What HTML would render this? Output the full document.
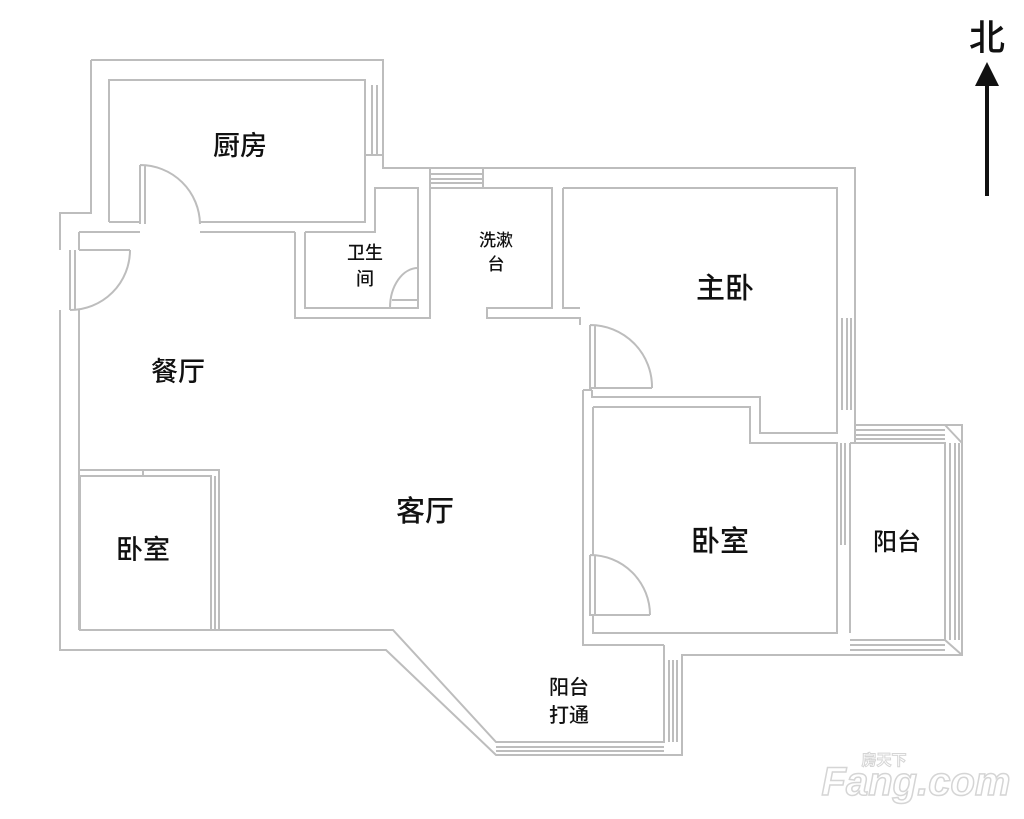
<!DOCTYPE html>
<html><head><meta charset="utf-8"><style>
html,body{margin:0;padding:0;background:#fff;}
svg{display:block;}
text{font-family:"Liberation Sans","Noto Sans CJK SC",sans-serif;fill:#111;text-anchor:middle;}
</style></head><body>
<svg width="1024" height="819" viewBox="0 0 1024 819" xmlns="http://www.w3.org/2000/svg">
<g fill="none" stroke="#bdbdbd" stroke-width="2">
<path d="M91,60 H383 V168 H855 V425 H962 V655 H682 V755 H496 L386,650 H60 V310 M60,250 V213 H91 V60"/>
<path d="M109,222 V80 H365 V222 H200 M140,222 H109"/>
<path d="M365,85 V155 M372,85 V155 M377,85 V155 M383,85 V155 M365,155 H383"/>
<path d="M79,232 H140 M200,232 H295"/>
<path d="M140,165 V224 M145,165 V224 M140,165 A60,60 0 0 1 200,224"/>
<path d="M79,250 H130 M79,310 V630 M79,232 V250"/>
<path d="M70,250 V310 M75,250 V310 M130,250 A60,60 0 0 1 70,310"/>
<path d="M295,232 V318 H430 V188 M305,232 V308 H418 V268 M305,232 H375 V188 H418 V268 M365,155 V168 M375,188 H383"/>
<path d="M418,268 A28,40 0 0 0 390,308 M392,300 H418"/>
<path d="M430,188 H552 V308 H487 V318 H580 V325 M430,168 V188 M483,168 V188 M430,174 H483 M430,179 H483 M430,183 H483"/>
<path d="M563,188 V308 H580 M563,188 H837 V433 H760 V397 H592 V390 M855,168 V425"/>
<path d="M837,318 V410 M842,318 V410 M847,318 V410 M851,318 V410"/>
<path d="M590,325 V388 H652 M595,325 V388 M590,325 A62,62 0 0 1 652,388"/>
<path d="M583,390 V645 H664 M593,407 H750 V443 H837 V633 H593 V615 M593,407 V555 M583,390 H592"/>
<path d="M590,555 V615 H650 M595,555 V615 M590,555 A60,60 0 0 1 650,615"/>
<path d="M837,443 V633 M841,443 V545 M845,443 V545 M850,443 V633"/>
<path d="M855,425 V443 M850,443 H945 V640 H850 M855,430 H945 M855,435 H945 M855,439 H945 M950,443 V640 M955,443 V640 M959,443 V640 M850,645 H945 M850,650 H945 M945,425 L962,443 M945,640 L962,655"/>
<path d="M80,476 V630 H211 V476 H80 M80,470 H219 V630 M143,470 V476 M215,476 V630"/>
<path d="M79,630 H393 L496,742 H664 V653 M664,645 V653 M496,747 H664 M496,751 H664 M669,660 V742 M673,660 V742 M677,660 V742 M682,655 V755"/>
</g>
<g font-weight="bold" style="font-weight:500">
<text x="240" y="155" font-size="27">厨房</text>
<text x="365" y="259" font-size="18">卫生</text>
<text x="365" y="285" font-size="18">间</text>
<text x="496" y="246" font-size="17">洗漱</text>
<text x="496" y="270" font-size="17">台</text>
<text x="725" y="298" font-size="29">主卧</text>
<text x="178" y="381" font-size="27">餐厅</text>
<text x="425" y="521" font-size="29">客厅</text>
<text x="143" y="559" font-size="27">卧室</text>
<text x="720" y="551" font-size="29">卧室</text>
<text x="897" y="550" font-size="24">阳台</text>
<text x="569" y="694" font-size="20">阳台</text>
<text x="569" y="722" font-size="20">打通</text>
<text x="987" y="50" font-size="36">北</text>
</g>
<line x1="987" y1="196" x2="987" y2="80" stroke="#111" stroke-width="4"/>
<polygon points="975,86 999,86 987,62" fill="#111"/>
<text x="916" y="795" font-size="40" font-weight="bold" font-style="italic" style="fill:#fff;stroke:#d5d5d5;stroke-width:1.5">Fang.com</text>
<text x="884" y="765" font-size="15" font-weight="bold" style="fill:#fff;stroke:#d5d5d5;stroke-width:1">房天下</text>
</svg>
</body></html>
